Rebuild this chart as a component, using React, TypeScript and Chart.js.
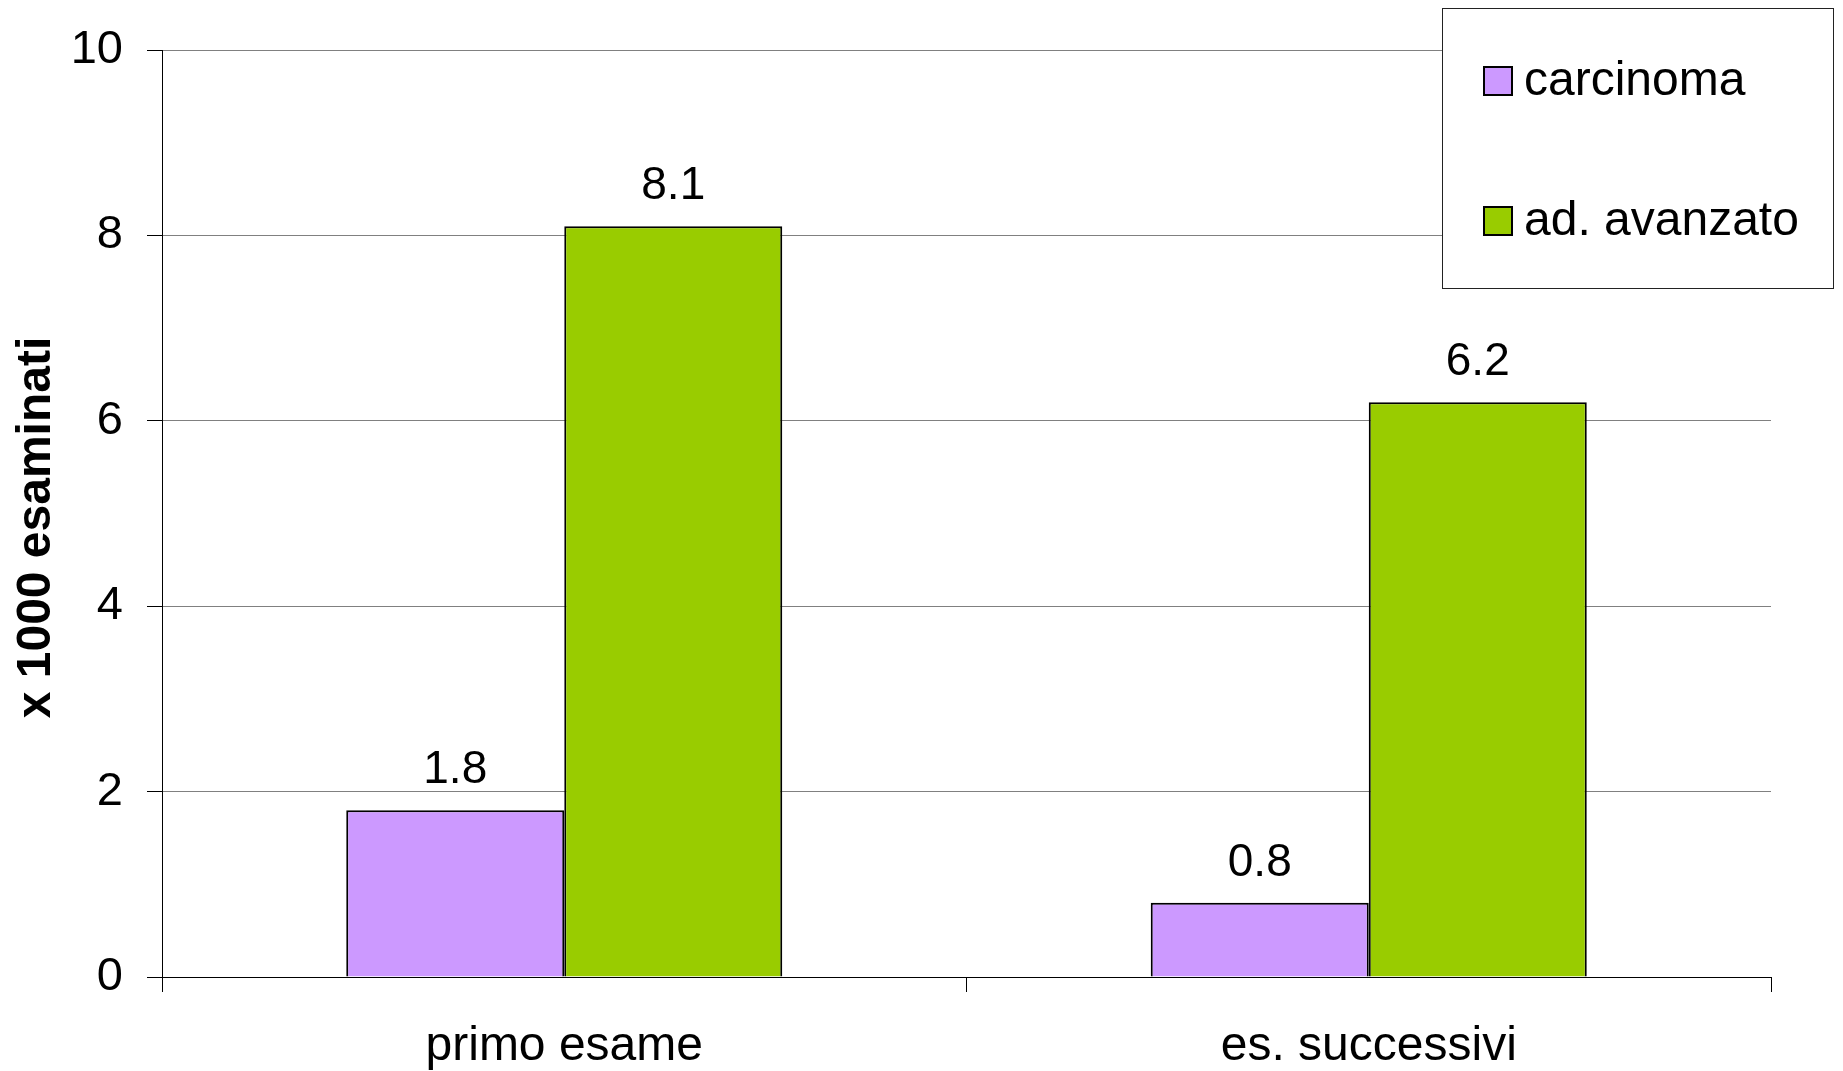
import React, { useEffect, useRef } from "react";
import { Chart, registerables } from "chart.js";

Chart.register(...registerables);

const categories = ["primo esame", "es. successivi"];
const seriesNames = ["carcinoma", "ad. avanzato"];
const carcinomaValues = [1.8, 0.8];
const adenomaValues = [8.1, 6.2];
const yTicks = [0, 2, 4, 6, 8, 10];
const seriesColors = ["#CC99FF", "#99CC00"];
const yAxisTitle = "x 1000 esaminati";

const FONT = '"Liberation Sans", Arial, Helvetica, sans-serif';

const valueLabels = {
  id: "valueLabels",
  afterDatasetsDraw(chart: any) {
    const ctx = chart.ctx;
    ctx.save();
    ctx.font = `46px ${FONT}`;
    ctx.fillStyle = "#000";
    ctx.textAlign = "center";
    ctx.textBaseline = "alphabetic";
    chart.data.datasets.forEach((ds: any, i: number) => {
      chart.getDatasetMeta(i).data.forEach((bar: any, j: number) => {
        ctx.fillText(String(ds.data[j]), bar.x, bar.y - 27);
      });
    });
    ctx.restore();
  },
};

const yTitle = {
  id: "yTitle",
  afterDraw(chart: any) {
    const ctx = chart.ctx;
    const area = chart.chartArea;
    ctx.save();
    ctx.translate(37, (area.top + area.bottom) / 2 + 14);
    ctx.rotate(-Math.PI / 2);
    ctx.font = `bold 48px ${FONT}`;
    ctx.fillStyle = "#000";
    ctx.textAlign = "center";
    ctx.textBaseline = "middle";
    ctx.fillText(yAxisTitle, 0, 0);
    ctx.restore();
  },
};

const boxLegend = {
  id: "boxLegend",
  afterDraw(chart: any) {
    const ctx = chart.ctx;
    const x0 = 1442.5, y0 = 8.5, w = 391, h = 280;
    ctx.save();
    ctx.fillStyle = "#fff";
    ctx.fillRect(x0, y0, w, h);
    ctx.strokeStyle = "#222";
    ctx.lineWidth = 1;
    ctx.strokeRect(x0, y0, w, h);
    ctx.font = `48px ${FONT}`;
    ctx.textAlign = "left";
    ctx.textBaseline = "middle";
    chart.data.datasets.forEach((ds: any, i: number) => {
      const cy = 81 + i * 140;
      ctx.fillStyle = ds.backgroundColor;
      ctx.fillRect(1484, cy - 14, 28, 28);
      ctx.strokeStyle = "#000";
      ctx.lineWidth = 2;
      ctx.strokeRect(1484, cy - 14, 28, 28);
      ctx.fillStyle = "#000";
      ctx.fillText(ds.label, 1524, cy + 1);
    });
    ctx.restore();
  },
};

export default function App() {
  const ref = useRef<HTMLCanvasElement | null>(null);

  useEffect(() => {
    if (!ref.current) return;
    Chart.defaults.font.family = FONT;
    const chart = new Chart(ref.current, {
      type: "bar",
      data: {
        labels: categories,
        datasets: [
          {
            label: seriesNames[0],
            data: carcinomaValues,
            backgroundColor: seriesColors[0],
            borderColor: "#000",
            borderWidth: 2,
          },
          {
            label: seriesNames[1],
            data: adenomaValues,
            backgroundColor: seriesColors[1],
            borderColor: "#000",
            borderWidth: 2,
          },
        ],
      },
      options: {
        responsive: false,
        animation: false,
        devicePixelRatio: 1,
        layout: { padding: { top: 50, right: 72, bottom: 0, left: 0 } },
        plugins: {
          legend: { display: false },
          tooltip: { enabled: false },
        },
        datasets: {
          bar: { barPercentage: 1, categoryPercentage: 0.542 },
        },
        scales: {
          x: {
            afterFit: (s: any) => {
              s.height = 94;
              s.paddingLeft = 0;
              s.paddingRight = 0;
            },
            grid: {
              offset: true,
              drawOnChartArea: true,
              drawTicks: true,
              tickLength: 15,
              tickColor: "#000",
              color: (c: any) => (c.index === 2 ? "#808080" : "rgba(0,0,0,0)"),
              lineWidth: 1,
            },
            border: { color: "#000", width: 1 },
            ticks: {
              color: "#000",
              font: { size: 48 },
              padding: 26,
              maxRotation: 0,
            },
          },
          y: {
            min: 0,
            max: 10,
            afterFit: (s: any) => {
              s.width = 162;
              s.paddingTop = 0;
              s.paddingBottom = 0;
            },
            afterBuildTicks: (s: any) => {
              s.ticks = yTicks.map((v) => ({ value: v }));
            },
            grid: {
              color: (c: any) => (c.tick && c.tick.value === 0 ? "#000" : "#808080"),
              tickColor: "#000",
              tickLength: 15,
              lineWidth: 1,
            },
            border: { color: "#000", width: 1 },
            ticks: {
              color: "#000",
              font: { size: 47 },
              padding: 24,
            },
            title: { display: false },
          },
        },
      },
      plugins: [valueLabels, yTitle, boxLegend],
    } as any);
    return () => chart.destroy();
  }, []);

  return (
    <div style={{ position: "absolute", left: 0, top: 0, width: 1843, height: 1071, background: "#fff" }}>
      <canvas ref={ref} width={1843} height={1071} style={{ display: "block", width: 1843, height: 1071 }} />
    </div>
  );
}
